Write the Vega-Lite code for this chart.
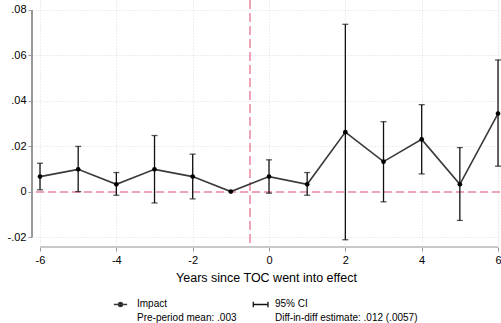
{
  "$schema": "https://vega.github.io/schema/vega-lite/v6.json",
  "autosize": "none",
  "width": 468,
  "height": 247,
  "padding": {"left": 32, "top": 0, "right": 1, "bottom": 76},
  "background": "white",
  "config": {
    "font": "Liberation Sans",
    "view": {"stroke": null},
    "axis": {"labelFont": "Liberation Sans", "titleFont": "Liberation Sans", "labelColor": "black", "titleColor": "black"}
  },
  "data": {
    "values": [
      {"year": -6, "est": 0.0066, "lo": 0.0008, "hi": 0.0125},
      {"year": -5, "est": 0.0098, "lo": 0.0000, "hi": 0.0199},
      {"year": -4, "est": 0.0032, "lo": -0.0016, "hi": 0.0084},
      {"year": -3, "est": 0.0098, "lo": -0.0050, "hi": 0.0247},
      {"year": -2, "est": 0.0066, "lo": -0.0032, "hi": 0.0165},
      {"year": -1, "est": 0.0000, "lo": null, "hi": null},
      {"year": 0, "est": 0.0066, "lo": -0.0007, "hi": 0.0140},
      {"year": 1, "est": 0.0032, "lo": -0.0016, "hi": 0.0084},
      {"year": 2, "est": 0.0262, "lo": -0.0212, "hi": 0.0737},
      {"year": 3, "est": 0.0132, "lo": -0.0045, "hi": 0.0308},
      {"year": 4, "est": 0.0230, "lo": 0.0078, "hi": 0.0383},
      {"year": 5, "est": 0.0032, "lo": -0.0127, "hi": 0.0194},
      {"year": 6, "est": 0.0344, "lo": 0.0112, "hi": 0.0580}
    ]
  },
  "layer": [
    {
      "mark": {"type": "point", "filled": true, "size": 22, "color": "black", "opacity": 0},
      "encoding": {
        "x": {
          "field": "year", "type": "quantitative",
          "scale": {"domain": [-6.21, 6.052], "nice": false, "zero": false},
          "axis": {
            "values": [-6, -4, -2, 0, 2, 4, 6],
            "labelExpr": "datum.value < 0 ? '-' + abs(datum.value) : '' + datum.value",
            "title": "Years since TOC went into effect",
            "titleFontSize": 12.5, "titleFontWeight": "normal", "titlePadding": 6,
            "labelFontSize": 11, "labelPadding": 3,
            "domain": false,
            "ticks": true, "tickSize": 4, "tickColor": "#999", "tickWidth": 1,
            "grid": true, "gridColor": "#dcdcdc", "gridDash": [1, 2], "gridWidth": 1
          }
        },
        "y": {
          "field": "est", "type": "quantitative",
          "scale": {"domain": [-0.0244, 0.0844], "nice": false, "zero": false},
          "axis": {
            "values": [-0.02, 0, 0.02, 0.04, 0.06, 0.08],
            "labelExpr": "datum.value == 0 ? '0' : (datum.value < 0 ? '-' : '') + replace(format(abs(datum.value), '.2f'), '0.', '.')",
            "title": null,
            "labelFontSize": 11, "labelPadding": 2,
            "domain": false,
            "ticks": true, "tickSize": 4, "tickColor": "#999", "tickWidth": 1,
            "grid": true, "gridColor": "#dcdcdc", "gridDash": [1, 2], "gridWidth": 1
          }
        }
      }
    },
    {
      "mark": {"type": "rule", "color": "#999", "strokeWidth": 1.5},
      "encoding": {"x": {"datum": -6.21}, "y": {"datum": -0.02}, "y2": {"datum": 0.08}}
    },
    {
      "mark": {"type": "rule", "color": "#c8c8c8", "strokeWidth": 2},
      "encoding": {"y": {"datum": -0.0244}, "x": {"datum": -6}, "x2": {"datum": 6}}
    },
    {
      "mark": {"type": "rule", "color": "#eea4b6", "strokeWidth": 1.3, "strokeDash": [8, 4]},
      "encoding": {"y": {"datum": 0}}
    },
    {
      "mark": {"type": "rule", "color": "#eea4b6", "strokeWidth": 1.3, "strokeDash": [9, 4]},
      "encoding": {"x": {"datum": -0.5}}
    },
    {
      "transform": [{"filter": "datum.lo != null"}],
      "mark": {"type": "rule", "strokeWidth": 1.3},
      "encoding": {
        "x": {"field": "year", "type": "quantitative"},
        "y": {"field": "lo", "type": "quantitative"},
        "y2": {"field": "hi"},
        "color": {
          "datum": "95% CI",
          "scale": {"domain": ["Impact", "95% CI"], "range": ["#3a3a3a", "#111111"]},
          "legend": {
            "orient": "none", "legendX": 78, "legendY": 294,
            "direction": "horizontal", "columns": 2, "title": null,
            "symbolSize": 361, "symbolStrokeWidth": 1.3,
            "labelOffset": 6, "columnPadding": 11, "padding": 0,
            "labelFontSize": 10, "labelLimit": 400, "labelBaseline": "top",
            "labelExpr": "datum.label == 'Impact' ? ['Impact', 'Pre-period mean: .003'] : ['95% CI', 'Diff-in-diff estimate: .012 (.0057)']",
            "encode": {
              "symbols": {"update": {
                "shape": {"signal": "datum.value == 'Impact' ? 'M-0.7,0H0.7M0.22,0A0.22,0.22 0 1,1 -0.22,0A0.22,0.22 0 1,1 0.22,0Z' : 'M-0.55,0H1M-0.55,-0.28V0.28M1,-0.28V0.28'"},
                "fill": {"value": "black"},
                "stroke": {"value": "black"}
              }},
              "labels": {"update": {"dy": {"value": -6}, "lineHeight": {"value": 14.5}}}
            }
          }
        }
      }
    },
    {
      "transform": [{"filter": "datum.lo != null"}],
      "mark": {"type": "tick", "orient": "horizontal", "size": 6, "thickness": 1.3, "color": "#111111"},
      "encoding": {"x": {"field": "year", "type": "quantitative"}, "y": {"field": "hi", "type": "quantitative"}}
    },
    {
      "transform": [{"filter": "datum.lo != null"}],
      "mark": {"type": "tick", "orient": "horizontal", "size": 6, "thickness": 1.3, "color": "#111111"},
      "encoding": {"x": {"field": "year", "type": "quantitative"}, "y": {"field": "lo", "type": "quantitative"}}
    },
    {
      "mark": {"type": "line", "strokeWidth": 1.6},
      "encoding": {
        "x": {"field": "year", "type": "quantitative"},
        "y": {"field": "est", "type": "quantitative"},
        "color": {"datum": "Impact"}
      }
    },
    {
      "mark": {"type": "point", "filled": true, "size": 22, "color": "black", "opacity": 1},
      "encoding": {
        "x": {"field": "year", "type": "quantitative"},
        "y": {"field": "est", "type": "quantitative"}
      }
    }
  ]
}
